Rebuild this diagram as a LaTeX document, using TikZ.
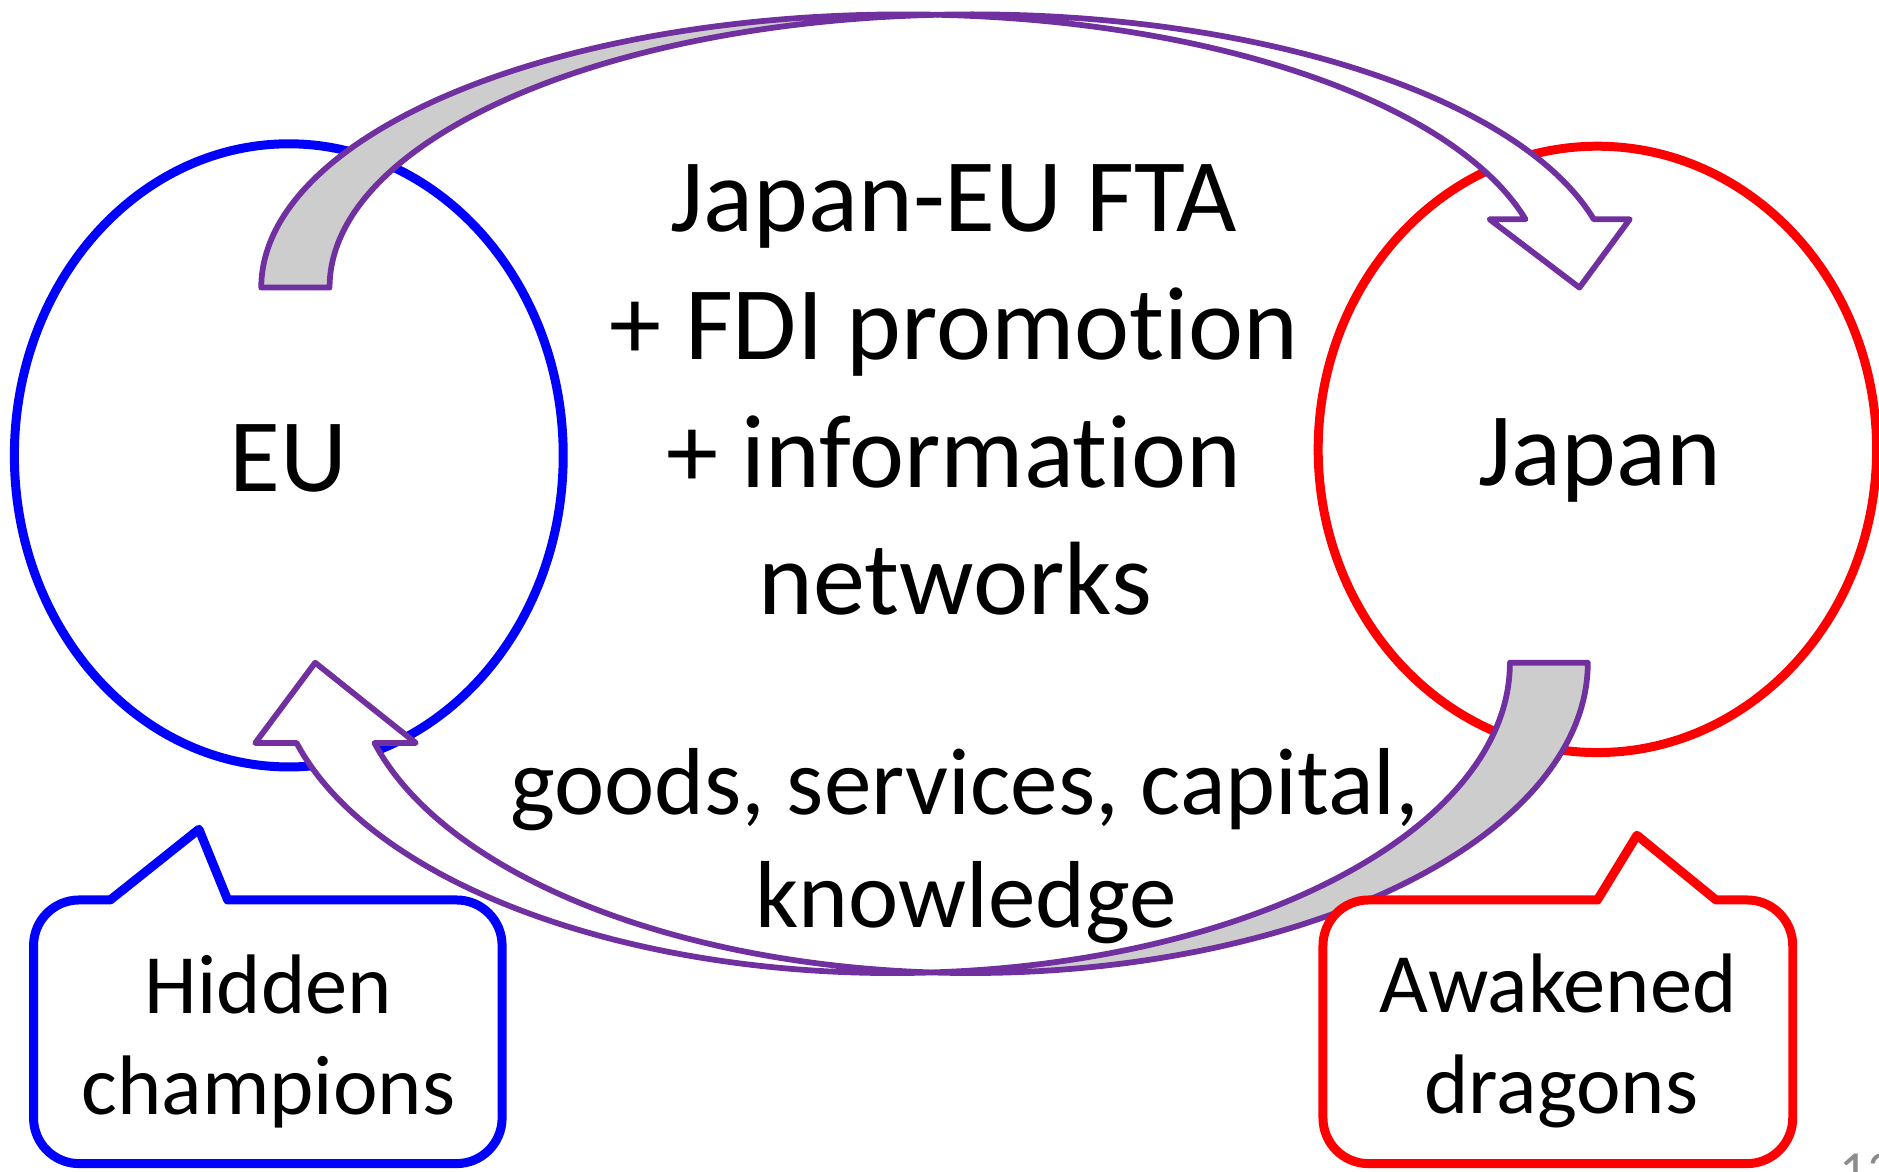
\documentclass[tikz,border=0pt]{standalone}
\usepackage{fontspec}
\setmainfont{Carlito}[Ligatures={NoCommon}]
\definecolor{arrowpurple}{HTML}{7030A0}
\definecolor{bandgray}{HTML}{CDCDCD}
\definecolor{numgray}{HTML}{8C8C8C}
\tikzset{
  ring/.style={line width=7.5pt},
  band/.style={draw=arrowpurple, line width=4.8pt, line join=round},
  callout/.style={line width=7.5pt, fill=white, line join=round},
  txtbig/.style={font=\fontsize{87}{107}\selectfont, inner sep=0pt, anchor=base},
  txtmid/.style={font=\fontsize{79.4}{95}\selectfont, inner sep=0pt, anchor=base},
  txtsmall/.style={font=\fontsize{70.5}{83}\selectfont, inner sep=0pt, anchor=base},
}
\begin{document}
\begin{tikzpicture}[x=1pt,y=1pt]
\useasboundingbox (0,0) rectangle (1568,-977.2);
% circles
\draw[ring, draw=blue] (241,-380) ellipse[x radius=229, y radius=260];
\draw[ring, draw=red] (1333,-375) ellipse[x radius=233, y radius=253];
% top curved arrow (EU -> Japan)
\filldraw[band, fill=bandgray] (218,-240)
  arc[start angle=180, end angle=86.95, x radius=536, y radius=228]
  arc[start angle=93.05, end angle=180, x radius=536, y radius=228] -- cycle;
\filldraw[band, fill=white] (782.5,-12.32)
  arc[start angle=93.05, end angle=14.48, x radius=536, y radius=228]
  -- (1360,-183) -- (1318,-240) -- (1243,-183) -- (1273,-183)
  arc[start angle=14.48, end angle=86.95, x radius=536, y radius=228] -- cycle;
% bottom curved arrow (Japan -> EU)
\filldraw[band, fill=bandgray] (1325,-553)
  arc[start angle=360, end angle=266.38, x radius=515, y radius=259]
  arc[start angle=273.62, end angle=360, x radius=515, y radius=259] -- cycle;
\filldraw[band, fill=white] (777.5,-811.48)
  arc[start angle=273.62, end angle=194.99, x radius=515, y radius=259]
  -- (213,-620) -- (263,-553) -- (347,-620) -- (312.5,-620)
  arc[start angle=194.99, end angle=266.38, x radius=515, y radius=259] -- cycle;
% callouts
\draw[callout, draw=blue] (66,-751) -- (92,-751) -- (166,-692) -- (190,-751) -- (381,-751)
  arc[start angle=90, end angle=0, radius=38] -- (419,-933)
  arc[start angle=0, end angle=-90, radius=38] -- (66,-971)
  arc[start angle=270, end angle=180, radius=38] -- (28,-789)
  arc[start angle=180, end angle=90, radius=38] -- cycle;
\draw[callout, draw=red] (1142,-751) -- (1333,-751) -- (1366,-697) -- (1432,-751) -- (1458,-751)
  arc[start angle=90, end angle=0, radius=38] -- (1496,-933)
  arc[start angle=0, end angle=-90, radius=38] -- (1142,-971)
  arc[start angle=270, end angle=180, radius=38] -- (1104,-789)
  arc[start angle=180, end angle=90, radius=38] -- cycle;
% texts
\node[txtbig] (eu) at (241,-410) {EU};
\node[txtbig] (jp) at (1335,-405) {Japan};
\node[txtbig] (t1) at (796,-193) {Japan-EU FTA};
\node[txtbig] (t2) at (796,-300) {+ FDI promotion};
\node[txtbig] (t3) at (796,-407) {+ information};
\node[txtbig] (t4) at (797,-513) {networks};
\node[txtmid] (g1) at (805,-680) {goods, services, capital,};
\node[txtmid] (g2) at (806,-774) {knowledge};
\node[txtsmall] (h1) at (224,-846) {Hidden};
\node[txtsmall] (h2) at (224,-930) {champions};
\node[txtsmall] (a1) at (1300,-845) {Awakened};
\node[txtsmall] (a2) at (1303,-929) {dragons};
\node[font=\fontsize{46}{50}\selectfont, text=numgray, inner sep=0pt, anchor=base west] (num) at (1535,-993) {13};
\end{tikzpicture}
\end{document}
